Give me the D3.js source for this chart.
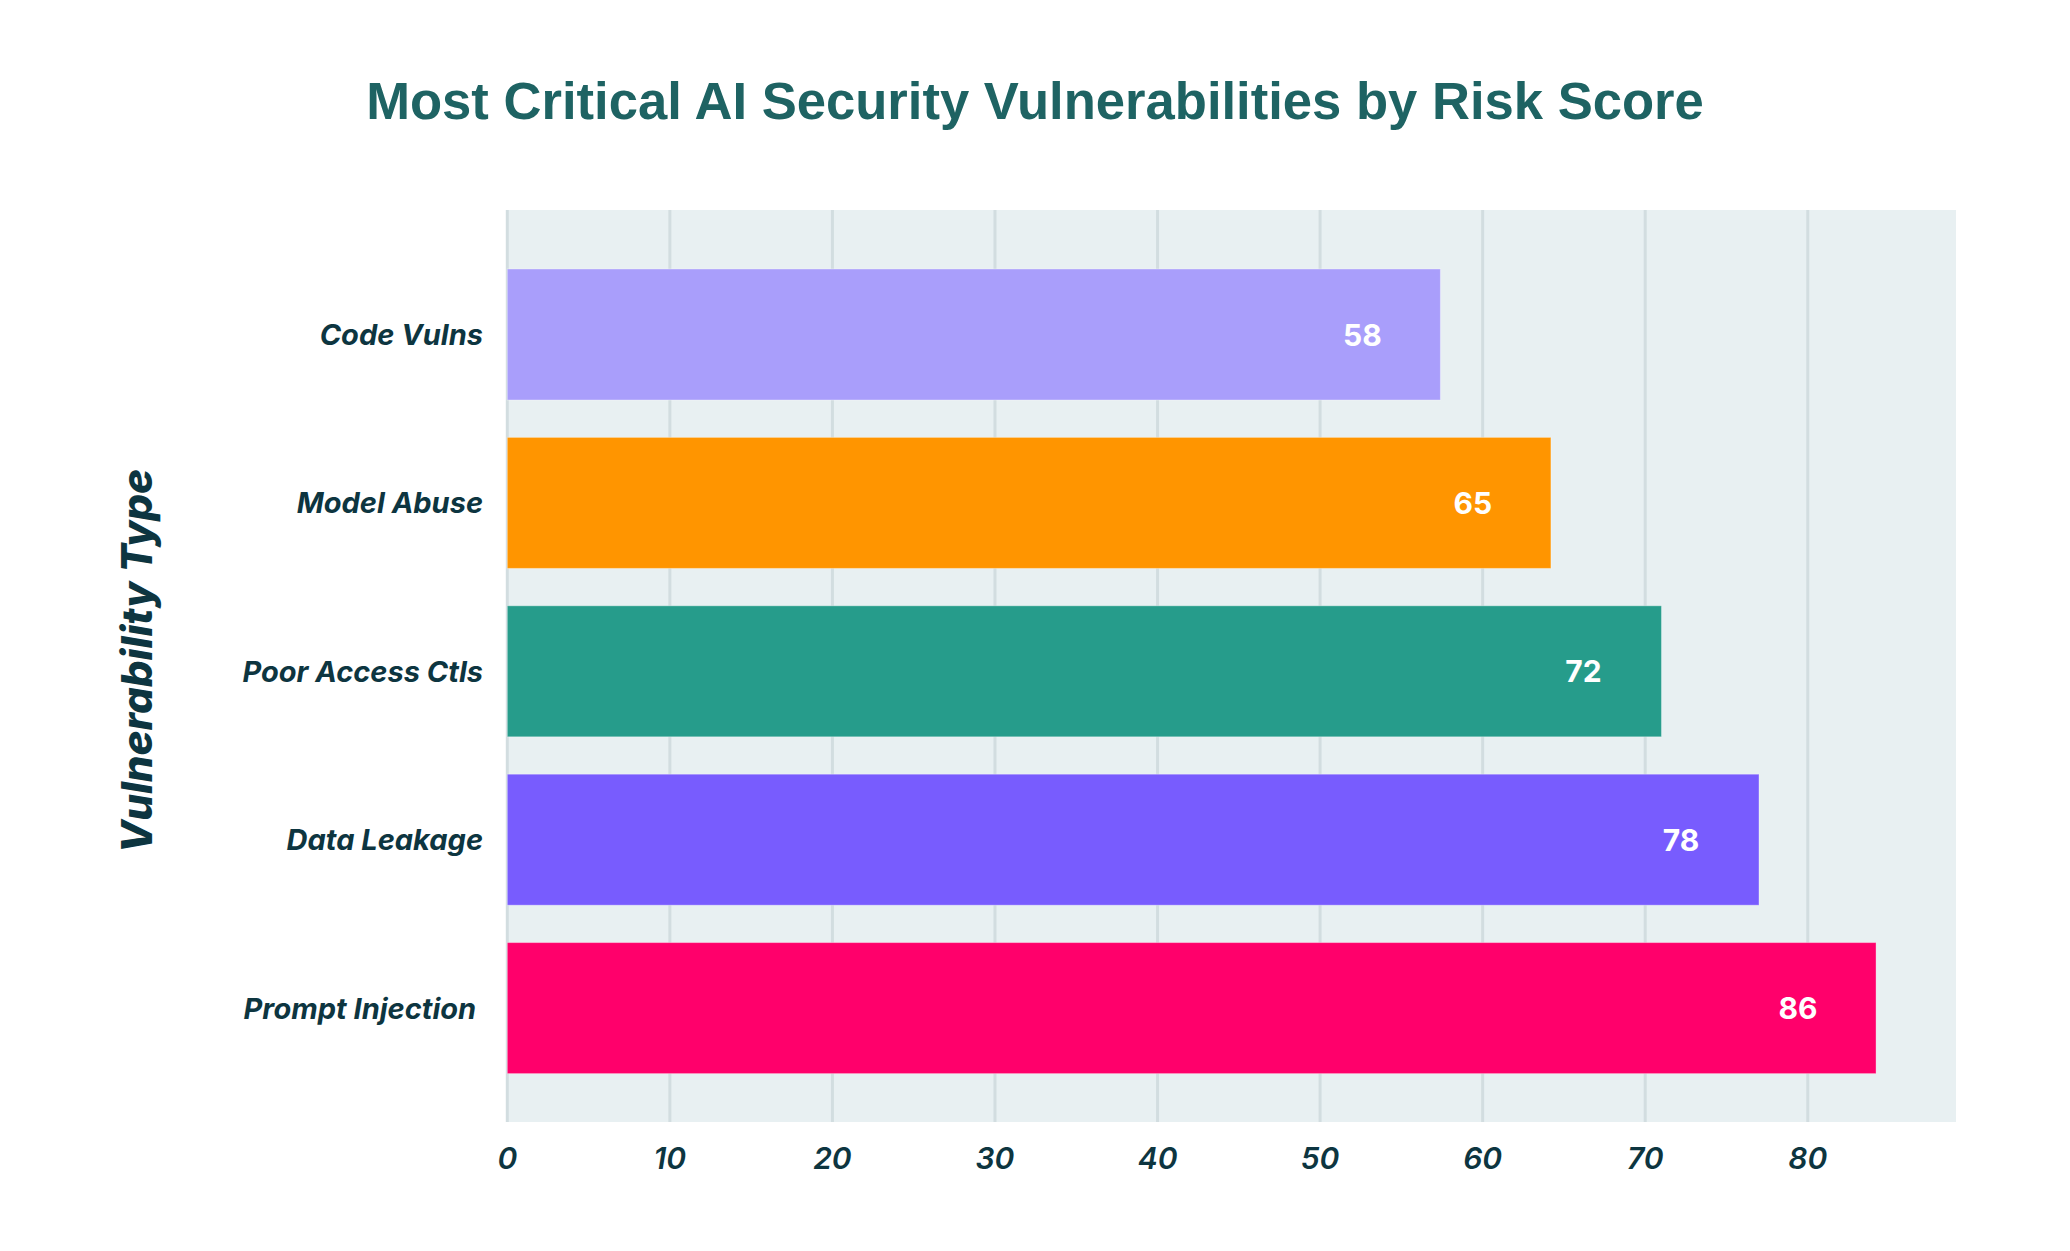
<!DOCTYPE html>
<html>
<head>
<meta charset="utf-8">
<script src="https://cdn.jsdelivr.net/npm/d3@7"></script>
<style>
  html, body { margin: 0; padding: 0; background: #fff; }
  .ylab { white-space: pre; }
</style>
</head>
<body>
<svg id="chart" width="2070" height="1251"></svg>
<script>
// categories top to bottom
const categories = ['Code Vulns', 'Model Abuse', 'Poor Access Ctls', 'Data Leakage', 'Prompt Injection '];
// printed risk scores
const scores = [58, 65, 72, 78, 86];
// bar lengths as drawn in the reference (slightly short of the printed scores)
const barLengths = [57.4, 64.2, 71.0, 77.0, 84.2];
const barColors = ['#a99efb', '#ff9500', '#269c8b', '#785cfe', '#ff006b'];
const xTicks = [0, 10, 20, 30, 40, 50, 60, 70, 80];

const title = 'Most Critical AI Security Vulnerabilities by Risk Score';
const yTitle = 'Vulnerability Type';

const plot = {left: 506, right: 1956, top: 210, bottom: 1122};

const svg = d3.select('#chart');

const x = d3.scaleLinear().domain([0, 89.1]).range([507.3, 1955.7]);
const y = d3.scaleBand().domain(categories)
  .range([250.3, 1092.3]).paddingInner(0.222).paddingOuter(0.111);

// background panel
svg.append('rect')
  .attr('x', plot.left).attr('y', plot.top)
  .attr('width', plot.right - plot.left).attr('height', plot.bottom - plot.top)
  .attr('fill', '#e8f0f2');

// vertical grid
svg.append('g').selectAll('line').data(xTicks).join('line')
  .attr('x1', d => x(d)).attr('x2', d => x(d))
  .attr('y1', plot.top).attr('y2', plot.bottom)
  .attr('stroke', '#d2dde0').attr('stroke-width', 3);

// bars
svg.append('g').selectAll('rect').data(categories).join('rect')
  .attr('x', x(0))
  .attr('y', d => y(d))
  .attr('width', (d, i) => x(barLengths[i]) - x(0))
  .attr('height', y.bandwidth())
  .attr('fill', (d, i) => barColors[i])
  .attr('stroke', 'rgba(255,255,255,0.35)').attr('stroke-width', 1);

// value labels inside bars
svg.append('g').selectAll('text').data(categories).join('text')
  .attr('x', (d, i) => x(barLengths[i]) - 78)
  .attr('y', d => y(d) + y.bandwidth() / 2)
  .attr('text-anchor', 'middle').attr('dominant-baseline', 'central')
  .attr('font-family', 'Inter, sans-serif').attr('font-weight', 700)
  .attr('font-size', 30).attr('fill', '#fff')
  .text((d, i) => scores[i]);

// category labels
svg.append('g').selectAll('text').data(categories).join('text')
  .attr('class', 'ylab')
  .attr('x', 483)
  .attr('y', d => y(d) + y.bandwidth() / 2)
  .attr('text-anchor', 'end').attr('dominant-baseline', 'central')
  .attr('font-family', 'Inter, sans-serif').attr('font-weight', 700)
  .attr('font-style', 'italic')
  .attr('font-size', 29).attr('fill', '#0d3540')
  .text(d => d);

// x tick labels
svg.append('g').selectAll('text').data(xTicks).join('text')
  .attr('x', d => x(d))
  .attr('y', 1158)
  .attr('text-anchor', 'middle').attr('dominant-baseline', 'central')
  .attr('font-family', 'Inter, sans-serif').attr('font-weight', 600)
  .attr('font-style', 'italic')
  .attr('font-size', 30).attr('fill', '#0d3540')
  .text(d => d);

// y axis title
svg.append('text')
  .attr('transform', 'translate(136,661) rotate(-90)')
  .attr('text-anchor', 'middle').attr('dominant-baseline', 'central')
  .attr('font-family', 'Inter, sans-serif').attr('font-weight', 800)
  .attr('font-style', 'italic')
  .attr('font-size', 42).attr('fill', '#0d3540')
  .text(yTitle);

// chart title
svg.append('text')
  .attr('x', 1035).attr('y', 100)
  .attr('text-anchor', 'middle').attr('dominant-baseline', 'central')
  .attr('font-family', '"Liberation Sans", Arial, sans-serif').attr('font-weight', 700)
  .attr('font-size', 52.6).attr('fill', '#1e6363')
  .text(title);
</script>
</body>
</html>
